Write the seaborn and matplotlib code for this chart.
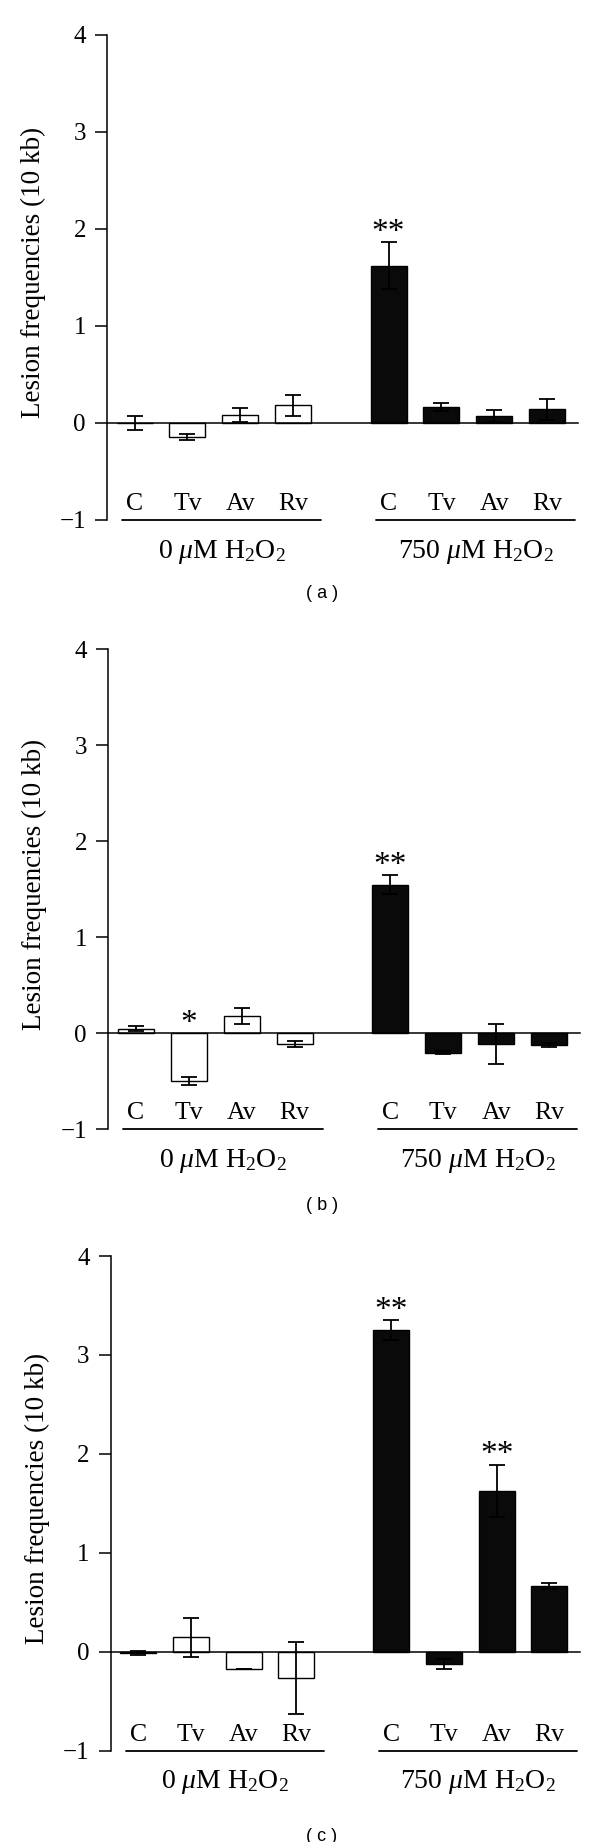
import numpy as np
import pandas as pd
import matplotlib
matplotlib.use("Agg")
import matplotlib.pyplot as plt
from matplotlib import transforms
import seaborn as sns

# ---------------- data ----------------
treatments = ["C", "Tv", "Av", "Rv"]
doses = ["0", "750"]
dose_labels = ["0 $\\mu$M H$_2$O$_2$", "750 $\\mu$M H$_2$O$_2$"]
panel_names = ["a", "b", "c"]

# order: 0 uM (C, Tv, Av, Rv), then 750 uM (C, Tv, Av, Rv)
values_a = [0.00, -0.145, 0.08, 0.18, 1.62, 0.165, 0.07, 0.14]
errors_a = [0.07, 0.03, 0.075, 0.11, 0.24, 0.04, 0.06, 0.11]
stars_a = ["", "", "", "", "**", "", "", ""]

values_b = [0.05, -0.50, 0.18, -0.115, 1.55, -0.20, -0.11, -0.12]
errors_b = [0.03, 0.04, 0.08, 0.03, 0.10, 0.02, 0.21, 0.02]
stars_b = ["", "*", "", "", "**", "", "", ""]

values_c = [-0.01, 0.145, -0.175, -0.265, 3.25, -0.125, 1.625, 0.66]
errors_c = [0.02, 0.20, 0.0, 0.365, 0.10, 0.05, 0.265, 0.03]
stars_c = ["", "", "", "", "**", "", "**", ""]

yticks = [-1, 0, 1, 2, 3, 4]
ytick_labels = ["\u22121", "0", "1", "2", "3", "4"]
ylabel = "Lesion frequencies (10 kb)"

# ---------------- layout ----------------
W, H = 600, 1842
panel_px = [  # left, right, top, bottom (pixels)
    (107.3, 578, 34.7, 520),
    (108.3, 580, 649.3, 1129.3),
    (111, 580, 1256, 1750.7),
]
caption_y = [594, 1205, 1836]
GROUP_GAP = 0.8
XLIM = (-0.515, 8.38)

sns.set_theme(style="ticks")
plt.rcParams.update({
    "axes.edgecolor": "black", "xtick.color": "black", "ytick.color": "black",
    "text.color": "black", "axes.labelcolor": "black",
    "mathtext.fontset": "custom",
    "mathtext.rm": "Liberation Serif",
    "mathtext.it": "Liberation Serif:italic",
    "mathtext.bf": "Liberation Serif:bold",
})
plt.rcParams["font.family"] = ["Liberation Serif", "DejaVu Serif"]

fig = plt.figure(figsize=(W / 100, H / 100), dpi=100)

positions = [i + g * (len(treatments) + GROUP_GAP)
             for g in range(len(doses)) for i in range(len(treatments))]

panels = [(values_a, errors_a, stars_a),
          (values_b, errors_b, stars_b),
          (values_c, errors_c, stars_c)]

for k, (vals, errs, stars) in enumerate(panels):
    l, r, t, b = panel_px[k]
    ax = fig.add_axes([l / W, 1 - b / H, (r - l) / W, (b - t) / H])
    df = pd.DataFrame({
        "pos": positions,
        "value": vals,
        "err": errs,
        "dose": np.repeat(doses, len(treatments)),
        "treatment": treatments * len(doses),
    })
    sns.barplot(data=df, x="pos", y="value", hue="dose",
                palette={"0": "white", "750": "#0a0a0a"},
                native_scale=True, dodge=False, width=0.68,
                edgecolor="black", linewidth=1.0, errorbar=None,
                legend=False, ax=ax, zorder=2)
    ax.errorbar(df["pos"], df["value"], yerr=df["err"], fmt="none",
                ecolor="black", elinewidth=1.3, capsize=6, capthick=1.3,
                zorder=5)

    ax.set_xlim(*XLIM)
    ax.set_ylim(-1, 4)
    ax.set_xticks([])
    ax.set_xlabel("")
    ax.set_yticks(yticks, ytick_labels)
    ax.tick_params(axis="y", direction="out", length=8.4, width=1.1,
                   pad=7, labelsize=18)
    for side in ("top", "right"):
        ax.spines[side].set_visible(False)
    ax.spines["bottom"].set_position(("data", 0))
    ax.spines["bottom"].set_linewidth(1.1)
    ax.spines["left"].set_linewidth(1.1)
    ax.spines["bottom"].set_zorder(6)
    ax.set_ylabel(ylabel, fontsize=19.5)
    ax.yaxis.set_label_coords(-0.13, 0.51)

    trans = transforms.blended_transform_factory(ax.transData, ax.transAxes)
    for p, name in zip(df["pos"], df["treatment"]):
        ax.annotate(name, xy=(p, 0), xycoords=trans, xytext=(0, 7.2),
                    textcoords="offset points", ha="center", va="baseline",
                    fontsize=18.5)
    for g, lab in enumerate(dose_labels):
        gpos = positions[g * len(treatments):(g + 1) * len(treatments)]
        lo, hi = gpos[0] - 0.23, gpos[-1] + 0.53
        ax.plot([lo, hi], [0, 0], color="black", lw=1.3, transform=trans,
                clip_on=False)
        ax.annotate(lab, xy=((lo + hi) / 2, 0), xycoords=trans,
                    xytext=(0, -27), textcoords="offset points",
                    ha="center", va="baseline", fontsize=20)
    for p, v, e, s in zip(df["pos"], df["value"], df["err"], stars):
        if s:
            top = v + e if v >= 0 else 0
            ax.annotate(s, xy=(p, top), xytext=(0, 1),
                        textcoords="offset points", ha="center",
                        va="baseline", fontsize=24)

    fig.text(322 / W, 1 - caption_y[k] / H, f"( {panel_names[k]} )",
             family=["Liberation Sans", "DejaVu Sans"], fontsize=13,
             ha="center", va="center")

fig.savefig("out.png", dpi=100)
